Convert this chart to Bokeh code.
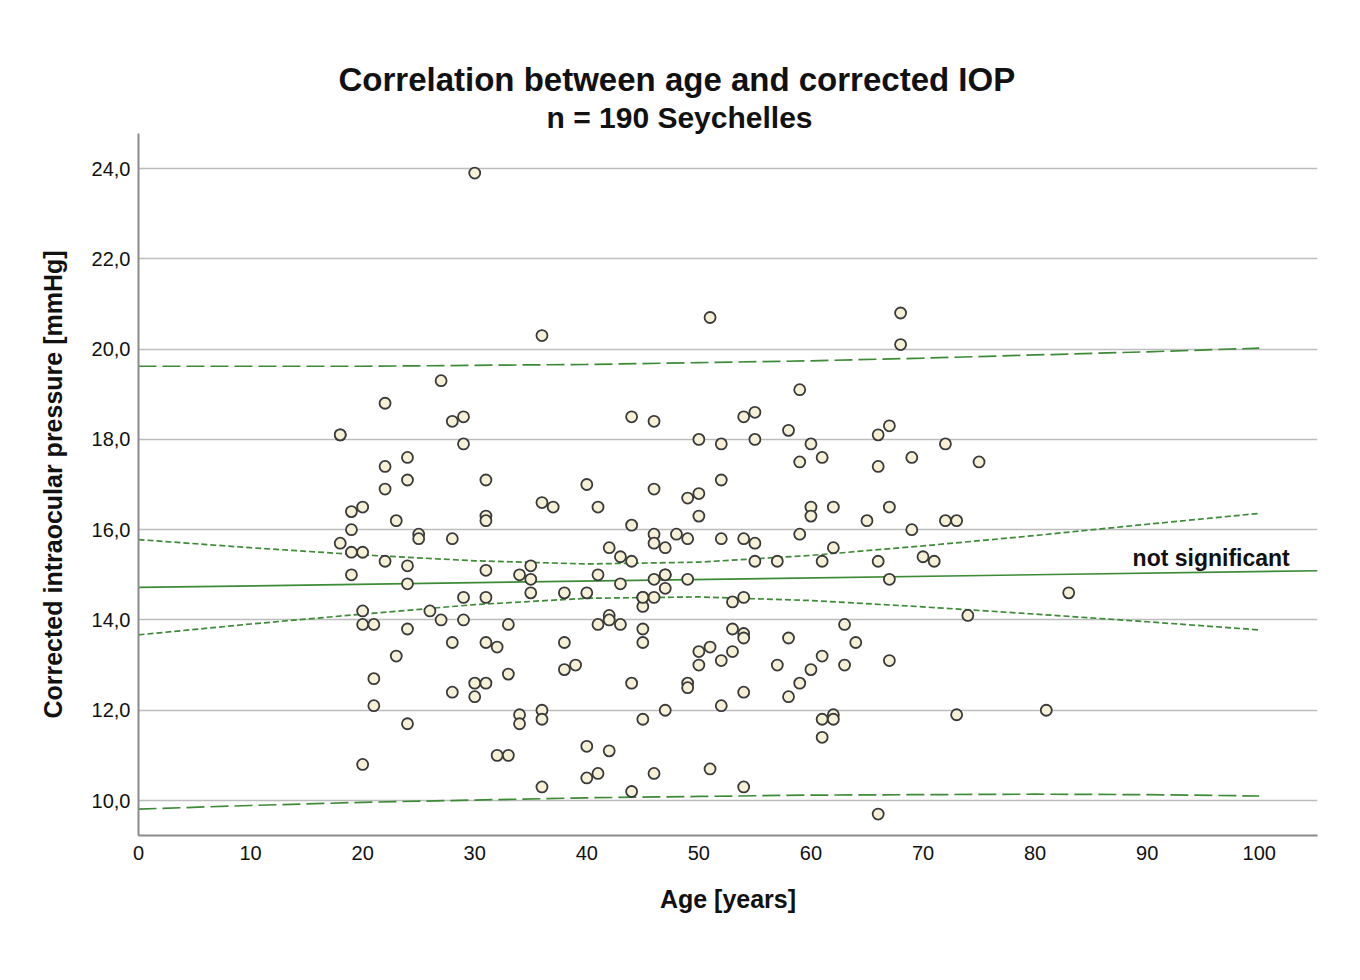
from bokeh.plotting import figure
from bokeh.models import FixedTicker, Title, Label, Range1d, ColumnDataSource
from bokeh.embed import file_html
from bokeh.resources import INLINE

# ---- data ----
ages = [30, 18, 18, 18, 19, 19, 19, 19, 20, 20, 20, 20, 20, 21, 21, 21, 22, 22, 22, 22,
        23, 23, 24, 24, 24, 24, 24, 24, 25, 25, 26, 27, 27, 28, 28, 28, 28, 29, 29, 29,
        29, 30, 30, 31, 31, 31, 31, 31, 31, 31, 32, 32, 33, 33, 33, 34, 34, 34, 35, 35,
        35, 36, 36, 36, 36, 36, 37, 38, 38, 38, 39, 40, 40, 40, 40, 41, 41, 41, 41, 42,
        42, 42, 42, 43, 43, 43, 44, 44, 44, 44, 44, 45, 45, 45, 45, 45, 46, 46, 46, 46,
        46, 46, 46, 47, 47, 47, 47, 48, 49, 49, 49, 49, 49, 50, 50, 50, 50, 50, 51, 51,
        51, 52, 52, 52, 52, 52, 53, 53, 53, 54, 54, 54, 54, 54, 54, 54, 55, 55, 55, 55,
        57, 57, 58, 58, 58, 59, 59, 59, 59, 60, 60, 60, 60, 61, 61, 61, 61, 61, 62, 62,
        62, 62, 63, 63, 64, 65, 66, 66, 66, 66, 67, 67, 67, 67, 68, 68, 69, 69, 70, 71,
        72, 72, 73, 73, 74, 75, 81, 83, 45, 47]
iop = [23.9, 18.1, 18.1, 15.7, 16.4, 16.0, 15.5, 15.0, 16.5, 15.5, 14.2, 13.9, 10.8, 13.9, 12.7, 12.1, 18.8, 17.4, 16.9, 15.3,
       16.2, 13.2, 17.6, 17.1, 15.2, 14.8, 13.8, 11.7, 15.9, 15.8, 14.2, 19.3, 14.0, 18.4, 15.8, 13.5, 12.4, 18.5, 17.9, 14.5,
       14.0, 12.6, 12.3, 17.1, 16.3, 16.2, 15.1, 14.5, 13.5, 12.6, 13.4, 11.0, 13.9, 12.8, 11.0, 15.0, 11.9, 11.7, 15.2, 14.9,
       14.6, 20.3, 16.6, 12.0, 11.8, 10.3, 16.5, 14.6, 13.5, 12.9, 13.0, 17.0, 14.6, 11.2, 10.5, 16.5, 15.0, 13.9, 10.6, 15.6,
       14.1, 14.0, 11.1, 15.4, 14.8, 13.9, 18.5, 16.1, 15.3, 12.6, 10.2, 14.5, 14.3, 13.8, 13.5, 11.8, 18.4, 16.9, 15.9, 15.7,
       14.9, 14.5, 10.6, 15.6, 15.0, 14.7, 12.0, 15.9, 16.7, 15.8, 14.9, 12.6, 12.5, 18.0, 16.8, 16.3, 13.3, 13.0, 20.7, 13.4,
       10.7, 17.9, 17.1, 15.8, 13.1, 12.1, 14.4, 13.8, 13.3, 18.5, 15.8, 14.5, 13.7, 13.6, 12.4, 10.3, 18.6, 18.0, 15.7, 15.3,
       15.3, 13.0, 18.2, 13.6, 12.3, 19.1, 17.5, 15.9, 12.6, 17.9, 16.5, 16.3, 12.9, 17.6, 15.3, 13.2, 11.8, 11.4, 16.5, 15.6,
       11.9, 11.8, 13.9, 13.0, 13.5, 16.2, 18.1, 17.4, 15.3, 9.7, 18.3, 16.5, 14.9, 13.1, 20.8, 20.1, 17.6, 16.0, 15.4, 15.3,
       17.9, 16.2, 16.2, 11.9, 14.1, 17.5, 12.0, 14.6, 14.5, 15.0]

# fitted line and interval bands
fit_ages = [0, 105.2]
fit_iop = [14.72, 15.09]
band_ages = [0, 10, 20, 30, 40, 50, 60, 70, 80, 90, 100]
ci_upper = [15.78, 15.60, 15.44, 15.31, 15.24, 15.28, 15.43, 15.64, 15.87, 16.12, 16.36]
ci_lower = [13.67, 13.91, 14.13, 14.34, 14.48, 14.51, 14.43, 14.29, 14.13, 13.96, 13.78]
pi_upper = [19.62, 19.62, 19.62, 19.64, 19.66, 19.70, 19.74, 19.80, 19.87, 19.94, 20.02]
pi_lower = [9.81, 9.89, 9.96, 10.01, 10.06, 10.09, 10.12, 10.13, 10.14, 10.13, 10.10]

x_ticks = [0, 10, 20, 30, 40, 50, 60, 70, 80, 90, 100]
y_ticks = [10, 12, 14, 16, 18, 20, 22, 24]
y_tick_labels = ["10,0", "12,0", "14,0", "16,0", "18,0", "20,0", "22,0", "24,0"]

title_text = "Correlation between age and corrected IOP"
subtitle_text = "n = 190 Seychelles"
x_label = "Age [years]"
y_label = "Corrected intraocular pressure [mmHg]"
note_text = "not significant"

FONT = "Liberation Sans"
GREEN = "#3d8b37"

p = figure(width=1344, height=960,
           x_range=Range1d(0, 105.2), y_range=Range1d(9.225, 24.776),
           output_backend="svg", toolbar_location=None,
           min_border_left=138, min_border_right=27,
           min_border_top=133, min_border_bottom=125)
p.outline_line_color = None
p.background_fill_color = "white"
p.border_fill_color = "white"

# titles (first added sits closest to the frame)
p.add_layout(Title(text=subtitle_text, align="left", text_font=FONT,
                   text_font_size="30px", text_font_style="bold",
                   text_color="#111111", standoff=0, offset=408), "above")
p.add_layout(Title(text=title_text, align="left", text_font=FONT,
                   text_font_size="33px", text_font_style="bold",
                   text_color="#111111", standoff=2, offset=200), "above")

# axes
for ax in (p.xaxis, p.yaxis):
    ax.axis_line_color = "#8a8a8a"
    ax.axis_line_width = 2
    ax.major_tick_line_color = None
    ax.minor_tick_line_color = None
    ax.major_tick_out = 0
    ax.major_tick_in = 0
    ax.major_label_text_font = FONT
    ax.major_label_text_font_size = "20px"
    ax.major_label_text_color = "#111111"
    ax.axis_label_text_font = FONT
    ax.axis_label_text_font_size = "25px"
    ax.axis_label_text_font_style = "bold"
    ax.axis_label_text_color = "#111111"

p.xaxis.ticker = FixedTicker(ticks=x_ticks)
p.xaxis.major_label_standoff = 10
p.xaxis.axis_label = x_label
p.xaxis.axis_label_standoff = 22

p.yaxis.ticker = FixedTicker(ticks=y_ticks)
p.yaxis.major_label_overrides = {t: l for t, l in zip(y_ticks, y_tick_labels)}
p.yaxis.major_label_standoff = 8
p.yaxis.axis_label = y_label
p.yaxis.axis_label_standoff = 22

p.xgrid.visible = False
p.ygrid.ticker = FixedTicker(ticks=y_ticks)
p.ygrid.grid_line_color = "#bdbdbd"
p.ygrid.grid_line_width = 1.6

# fit line and intervals
p.line(fit_ages, fit_iop, line_color=GREEN, line_width=1.7)
p.line(band_ages, ci_upper, line_color=GREEN, line_width=1.7, line_dash="6 3")
p.line(band_ages, ci_lower, line_color=GREEN, line_width=1.7, line_dash="6 3")
p.line(band_ages, pi_upper, line_color=GREEN, line_width=1.7, line_dash="18 6")
p.line(band_ages, pi_lower, line_color=GREEN, line_width=1.7, line_dash="18 6")

# points
src = ColumnDataSource(dict(age=ages, iop=iop))
p.scatter("age", "iop", source=src, size=11, fill_color="#f6f1d6",
          line_color="#3a3a3a", line_width=1.8)

p.add_layout(Label(x=88.7, y=15.38, text=note_text, text_font=FONT,
                   text_font_size="23px", text_font_style="bold",
                   text_color="#111111", text_baseline="alphabetic"))

open("out.html", "w").write(file_html(p, INLINE))
